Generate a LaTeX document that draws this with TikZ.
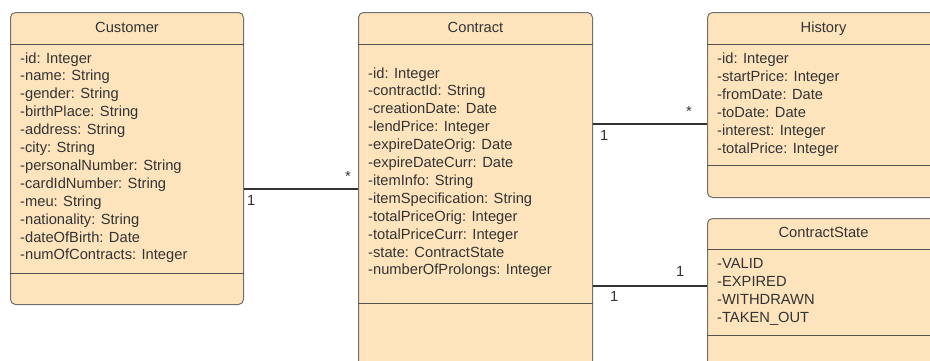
\documentclass[tikz,border=0pt]{standalone}
\usepackage{fontspec}
\setmainfont{Liberation Sans}
\definecolor{classfill}{HTML}{FEE4BD}
\definecolor{classline}{HTML}{707070}
\definecolor{ink}{HTML}{333333}
\newcommand{\umlfont}{\fontsize{14.7}{17.9}\selectfont}
\tikzset{
  umlclass/.style={
    draw=classline,
    fill=classfill,
    line width=1pt,
    rounded corners=5pt,
    inner sep=0pt,
    anchor=north west
  },
  classsep/.style={draw=ink!85, line width=0.9pt},
  classname/.style={anchor=base, inner sep=0pt, text=ink, font=\umlfont},
  member/.style={anchor=base west, inner sep=0pt, text=ink, font=\umlfont},
  assoc/.style={draw=ink, line width=1.4pt},
  mult/.style={inner sep=0pt, text=ink, font=\umlfont}
}

\begin{document}
\begin{tikzpicture}[x=1pt, y=-1pt]
  \useasboundingbox (0,0) rectangle (930,360);

  % class boxes
  \node[umlclass, minimum width=233pt, minimum height=292pt] (customer) at (10,12) {};
  \node[umlclass, minimum width=234pt, minimum height=400pt] (contract) at (358,12) {};
  \node[umlclass, minimum width=232pt, minimum height=185pt] (history) at (707,12) {};
  \node[umlclass, minimum width=232pt, minimum height=200pt] (state) at (707,218) {};

  % compartment lines
  \draw[classsep] (customer.west |- 0,44) -- (customer.east |- 0,44);
  \draw[classsep] (customer.west |- 0,273) -- (customer.east |- 0,273);
  \draw[classsep] (contract.west |- 0,44) -- (contract.east |- 0,44);
  \draw[classsep] (contract.west |- 0,303) -- (contract.east |- 0,303);
  \draw[classsep] (history.west |- 0,44) -- (history.east |- 0,44);
  \draw[classsep] (history.west |- 0,165) -- (history.east |- 0,165);
  \draw[classsep] (state.west |- 0,249) -- (state.east |- 0,249);
  \draw[classsep] (state.west |- 0,335) -- (state.east |- 0,335);

  % class names
  \node[classname] (customer-name) at (customer.north |- 0,32) {Customer};
  \node[classname] (contract-name) at (contract.north |- 0,32) {Contract};
  \node[classname] (history-name) at (history.north |- 0,32) {History};
  \node[classname] (state-name) at (state.north |- 0,237) {ContractState};

  % attributes
  \foreach \m [count=\i] in {-id: Integer, -name: String, -gender: String,
      -birthPlace: String, -address: String, -city: String,
      -personalNumber: String, -cardIdNumber: String, -meu: String,
      -nationality: String, -dateOfBirth: Date, -numOfContracts: Integer}
    \node[member] (customer-\i) at (20,{45.1+17.9*\i}) {\m};
  \foreach \m [count=\i] in {-id: Integer, -contractId: String,
      -creationDate: Date, -lendPrice: Integer, -expireDateOrig: Date,
      -expireDateCurr: Date, -itemInfo: String, -itemSpecification: String,
      -totalPriceOrig: Integer, -totalPriceCurr: Integer,
      -state: ContractState, -numberOfProlongs: Integer}
    \node[member] (contract-\i) at (368,{60.1+17.9*\i}) {\m};
  \foreach \m [count=\i] in {-id: Integer, -startPrice: Integer,
      -fromDate: Date, -toDate: Date, -interest: Integer,
      -totalPrice: Integer}
    \node[member] (history-\i) at (717,{45+18*\i}) {\m};
  \foreach \m [count=\i] in {-VALID, -EXPIRED, -WITHDRAWN, -TAKEN\_OUT}
    \node[member] (state-\i) at (717,{250+18*\i}) {\m};

  % associations
  \draw[assoc] (customer.east |- 0,189) -- (contract.west |- 0,189);
  \draw[assoc] (contract.east |- 0,124) -- (history.west |- 0,124);
  \draw[assoc] (contract.east |- 0,286) -- (state.west |- 0,286);

  % multiplicities
  \node[mult, anchor=base west] (customer-one) at (247,205) {1};
  \node[mult, anchor=base east] (contract-many) at (351,181) {*};
  \node[mult, anchor=base west] (contract-one) at (600,140) {1};
  \node[mult, anchor=base east] (history-many) at (692,116) {*};
  \node[mult, anchor=base west] (contract-state-one) at (610,301) {1};
  \node[mult, anchor=base west] (state-one) at (676,276) {1};
\end{tikzpicture}
\end{document}
